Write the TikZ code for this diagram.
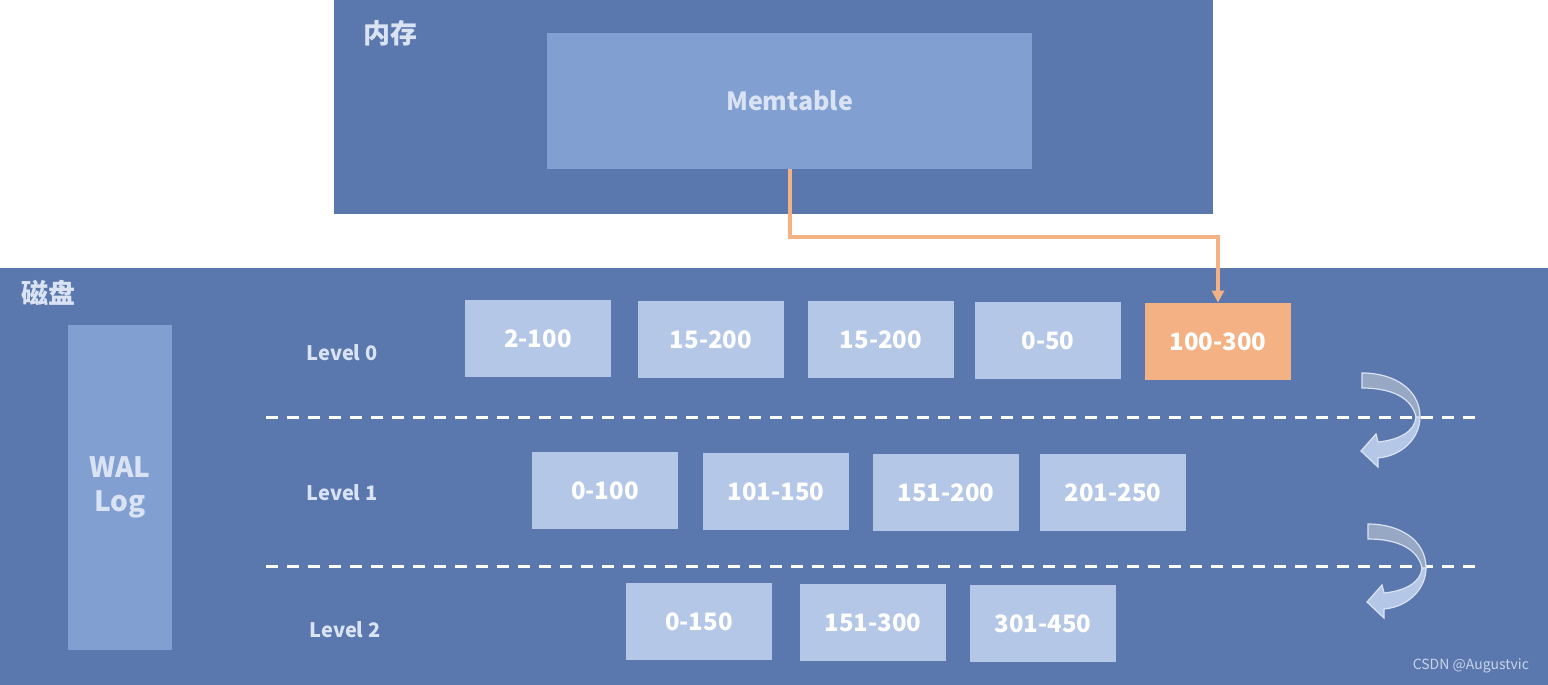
\documentclass[tikz,border=0pt]{standalone}
\usepackage{fontspec}
\setmainfont{Noto Sans CJK SC}
\usetikzlibrary{arrows.meta}
\definecolor{bgblue}{HTML}{5A78AE}
\definecolor{memblue}{HTML}{829FD1}
\definecolor{lvlblue}{HTML}{B4C7E7}
\definecolor{orng}{HTML}{F4B183}
\definecolor{lighttxt}{HTML}{DAE3F3}
\definecolor{arrgray}{HTML}{97A8C4}
\tikzset{
  panel/.style={fill=bgblue, draw=none},
  sst/.style={fill=lvlblue, draw=none, minimum width=73pt, minimum height=38.5pt, inner sep=0pt, text=white, font=\bfseries\fontsize{12}{14}\selectfont},
  hot/.style={sst, fill=orng},
  lvllabel/.style={text=lighttxt, font=\bfseries\fontsize{10}{12}\selectfont},
  sep/.style={white, line width=1.5pt, dash pattern=on 6pt off 4.5pt},
  flow/.style={orng, line width=2pt, -{Triangle[length=6pt,width=6pt]}},
}
\begin{document}
\begin{tikzpicture}[x=0.5pt,y=-0.5pt]
\useasboundingbox (0,0) rectangle (1548,685);
% memory panel
\fill[panel] (334,0) rectangle (1213,214);
\node[text=lighttxt, font=\bfseries\fontsize{13.5}{15}\selectfont, anchor=center] (memlabel) at (390,33) {内存};
\node[fill=memblue, minimum width=242.5pt, minimum height=68pt, inner sep=0pt, text=lighttxt, font=\bfseries\fontsize{12.5}{14}\selectfont] (memtable) at (789.5,101) {Memtable};
% disk panel
\fill[panel] (0,268) rectangle (1548,685);
\node[text=lighttxt, font=\bfseries\fontsize{13.5}{15}\selectfont] (disklabel) at (48,293) {磁盘};
\node[fill=memblue, minimum width=52pt, minimum height=162.5pt, inner sep=0pt, text=lighttxt, align=center, font=\bfseries\fontsize{14}{17}\selectfont] (wal) at (120,487.5) {WAL\\Log};
% level labels
\node[lvllabel] (l0) at (342,353) {Level 0};
\node[lvllabel] (l1) at (342,493) {Level 1};
\node[lvllabel] (l2) at (345,630) {Level 2};
% level 0
\node[sst] (a1) at (538,338.5) {2-100};
\node[sst] (a2) at (711,339.5) {15-200};
\node[sst] (a3) at (881,339.5) {15-200};
\node[sst] (a4) at (1048,340.5) {0-50};
\node[hot] (a5) at (1218,341.5) {100-300};
% level 1
\node[sst] (b1) at (605,490.5) {0-100};
\node[sst] (b2) at (776,491.5) {101-150};
\node[sst] (b3) at (946,492.5) {151-200};
\node[sst] (b4) at (1113,492.5) {201-250};
% level 2
\node[sst] (c1) at (699,621.5) {0-150};
\node[sst] (c2) at (873,622.5) {151-300};
\node[sst] (c3) at (1043,623.5) {301-450};
% separators
\coordinate (s1a) at (266,417); \coordinate (s1b) at (1476,417);
\coordinate (s2a) at (266,566); \coordinate (s2b) at (1476,566);
\draw[sep] (s1a) -- (s1b);
\draw[sep] (s2a) -- (s2b);
% flush arrow
\coordinate (bend) at (1218,237);
\draw[flow] (memtable.south) |- (bend) -- (a5.north);
% curved compaction arrows
\foreach \dx/\dy in {0/0, 6/151}{
  \begin{scope}[shift={(\dx,\dy)}]
    \fill[lvlblue, draw=lighttxt, line width=0.6pt]
      (1420,417) .. controls (1420,438) and (1402,456) .. (1378,458)
      -- (1378,467) -- (1361,451) -- (1376,434) -- (1378,442)
      .. controls (1398,440) and (1415,432) .. (1416,417) -- cycle;
    \fill[arrgray, draw=lighttxt, line width=0.6pt]
      (1362,373) .. controls (1395,373) and (1420,390) .. (1420,417)
      -- (1416,417) .. controls (1412,398) and (1392,388) .. (1362,388) -- cycle;
  \end{scope}
}
% watermark
\node[text=lighttxt!85!bgblue, font=\fontsize{7}{8}\selectfont, anchor=east] (wm) at (1536,666) {CSDN @Augustvic};
\end{tikzpicture}
\end{document}
